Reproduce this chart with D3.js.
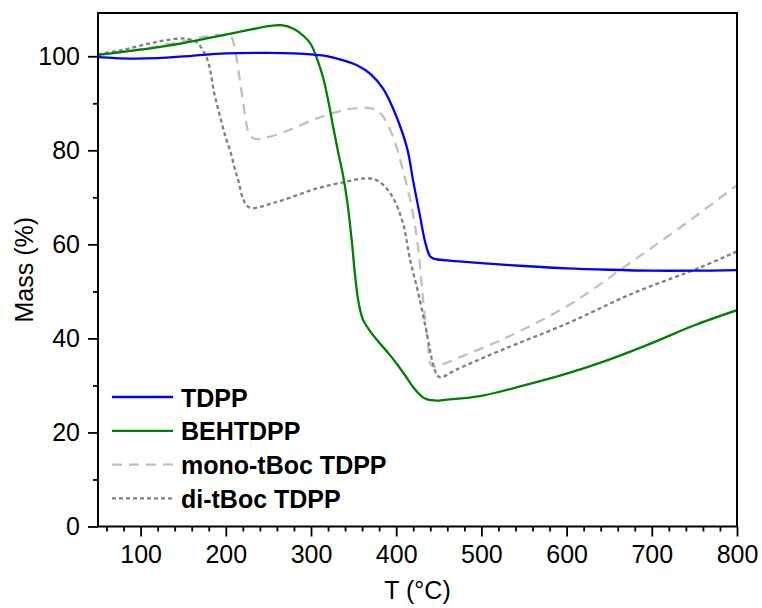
<!DOCTYPE html>
<html>
<head>
<meta charset="utf-8">
<script src="https://cdn.jsdelivr.net/npm/d3@7"></script>
<style>
  body { margin: 0; background: #fff; }
  text { font-family: "Liberation Sans", Arial, sans-serif; }
</style>
</head>
<body>
<script>
const width = 762;
const height = 608;

// temperature (°C) and mass (%)
const tdppT = [50, 70, 90, 120, 160, 200, 250, 280, 300, 320, 340, 355, 370, 385, 400, 413, 420, 428, 434, 440, 445, 460, 500, 550, 600, 650, 700, 750, 800];
const tdppM = [99.8, 99.6, 99.5, 99.6, 100.1, 100.6, 100.7, 100.6, 100.4, 100.0, 99.0, 98.0, 96.2, 93.0, 87.3, 80.3, 73.4, 66.0, 60.5, 57.4, 56.9, 56.6, 56.0, 55.4, 54.9, 54.6, 54.4, 54.4, 54.5];

const behT = [50, 100, 150, 200, 230, 250, 265, 280, 292, 300, 307, 314, 320, 326, 332, 338, 343, 348, 352, 356, 361, 370, 381, 392, 401, 411, 420, 432, 445, 460, 500, 550, 600, 650, 700, 750, 800];
const behM = [100.3, 101.4, 102.8, 104.6, 105.7, 106.4, 106.6, 105.8, 104.2, 102.5, 99.5, 95.6, 90.8, 85.0, 79.5, 74.3, 68.5, 60.5, 53.0, 47.5, 44.0, 41.4, 38.9, 36.6, 34.5, 32.0, 29.6, 27.4, 26.8, 27.0, 27.8, 30.0, 32.5, 35.5, 39.0, 42.8, 46.0];

const monoT = [50, 100, 150, 180, 200, 205, 208, 211, 217, 223, 227, 233, 240, 267, 307, 338, 361, 375, 383, 396, 408, 419, 426, 432, 437, 441, 446, 460, 480, 520, 560, 600, 630, 660, 700, 750, 800];
const monoM = [100.3, 101.5, 103.2, 104.3, 104.6, 104.4, 103.5, 101.2, 94.3, 87.0, 83.6, 82.5, 82.4, 83.8, 86.8, 88.5, 89.1, 88.7, 87.6, 83.0, 75.7, 67.2, 58.7, 47.4, 39.5, 34.3, 34.0, 34.9, 36.4, 39.4, 42.9, 46.8, 50.3, 54.2, 59.3, 65.8, 72.6];

const diT = [50, 80, 110, 130, 150, 160, 167, 173, 178, 182, 186, 190, 195, 200, 205, 210, 215, 220, 225, 232, 250, 267, 307, 338, 361, 375, 385, 396, 408, 416, 426, 436, 443, 448, 452, 470, 522, 601, 678, 757, 800];
const diM = [100.4, 101.4, 102.7, 103.4, 103.8, 103.5, 102.8, 101.3, 99.5, 96.8, 92.5, 89.5, 86.0, 82.7, 80.0, 76.5, 73.3, 69.8, 68.2, 67.7, 68.5, 69.4, 71.9, 73.2, 74.0, 73.8, 72.6, 70.0, 64.5, 57.0, 49.6, 41.0, 34.7, 32.2, 31.7, 33.3, 37.4, 43.2, 49.6, 55.1, 58.5];

const seriesNames = ["TDPP", "BEHTDPP", "mono-tBoc TDPP", "di-tBoc TDPP"];
const seriesColors = ["#0000ff", "#008000", "#c0c0c0", "#808080"];
const seriesDash = [null, null, "10,7", "4,3"];

const series = [
  { name: seriesNames[0], T: tdppT, M: tdppM },
  { name: seriesNames[1], T: behT, M: behM },
  { name: seriesNames[2], T: monoT, M: monoM },
  { name: seriesNames[3], T: diT, M: diM }
].map((s, i) => ({
  ...s,
  color: seriesColors[i],
  dash: seriesDash[i],
  points: s.T.map((t, j) => ({ t, m: s.M[j] }))
}));

const margin = { left: 98, right: 25, top: 13, bottom: 81.5 };

const x = d3.scaleLinear()
  .domain([50, 800])
  .range([margin.left, width - margin.right]);

const y = d3.scaleLinear()
  .domain([0, 109.2])
  .range([height - margin.bottom, margin.top]);

const svg = d3.select("body")
  .append("svg")
  .attr("width", width)
  .attr("height", height);

// curves, clipped to the frame
svg.append("clipPath")
  .attr("id", "plot")
  .append("rect")
  .attr("x", x(50))
  .attr("y", y(109.2))
  .attr("width", x(800) - x(50))
  .attr("height", y(0) - y(109.2));

const line = d3.line()
  .x(d => x(d.t))
  .y(d => y(d.m))
  .curve(d3.curveCatmullRom.alpha(0.5));

// draw gray ones first so the solid lines sit on top
const drawOrder = [series[2], series[3], series[1], series[0]];

svg.append("g")
  .attr("clip-path", "url(#plot)")
  .selectAll("path")
  .data(drawOrder)
  .join("path")
  .attr("d", d => line(d.points))
  .attr("fill", "none")
  .attr("stroke", d => d.color)
  .attr("stroke-width", 2.3)
  .attr("stroke-dasharray", d => d.dash);

// axes
const fontSize = 25;

svg.append("g")
  .attr("transform", `translate(0,${y(0)})`)
  .call(d3.axisBottom(x).tickValues(d3.range(100, 801, 100)).tickSize(10).tickPadding(9).tickSizeOuter(0));

svg.append("g")
  .attr("transform", `translate(0,${y(0)})`)
  .call(d3.axisBottom(x).tickValues(d3.range(60, 800, 20).filter(v => v % 100 !== 0)).tickSize(5).tickFormat("").tickSizeOuter(0));

svg.append("g")
  .attr("transform", `translate(${x(50)},0)`)
  .call(d3.axisLeft(y).tickValues(d3.range(0, 101, 20)).tickSize(10).tickPadding(8).tickSizeOuter(0));

svg.append("g")
  .attr("transform", `translate(${x(50)},0)`)
  .call(d3.axisLeft(y).tickValues(d3.range(10, 101, 20)).tickSize(5).tickFormat("").tickSizeOuter(0));

svg.selectAll(".tick line").attr("stroke", "#000").attr("stroke-width", 1.8);
svg.selectAll(".domain").remove();
svg.selectAll(".tick text")
  .attr("font-size", fontSize)
  .attr("font-family", "Liberation Sans, Arial, sans-serif")
  .attr("fill", "#000");

// frame
svg.append("rect")
  .attr("x", x(50))
  .attr("y", y(109.2))
  .attr("width", x(800) - x(50))
  .attr("height", y(0) - y(109.2))
  .attr("fill", "none")
  .attr("stroke", "#000")
  .attr("stroke-width", 2);

// axis titles
svg.append("text")
  .attr("x", (x(50) + x(800)) / 2)
  .attr("y", 599)
  .attr("text-anchor", "middle")
  .attr("font-size", fontSize)
  .text("T (°C)");

svg.append("text")
  .attr("transform", `translate(33,${(y(0) + y(109.2)) / 2}) rotate(-90)`)
  .attr("text-anchor", "middle")
  .attr("font-size", fontSize)
  .text("Mass (%)");

// legend
const legend = svg.append("g")
  .selectAll("g")
  .data(series)
  .join("g")
  .attr("transform", (d, i) => `translate(112,${397 + i * 33.8})`);

legend.append("line")
  .attr("x1", 0)
  .attr("x2", 61)
  .attr("stroke", d => d.color)
  .attr("stroke-width", 2.3)
  .attr("stroke-dasharray", d => d.dash);

legend.append("text")
  .attr("x", 69)
  .attr("y", 9.5)
  .attr("font-size", fontSize)
  .attr("font-weight", "bold")
  .text(d => d.name);
</script>
</body>
</html>
